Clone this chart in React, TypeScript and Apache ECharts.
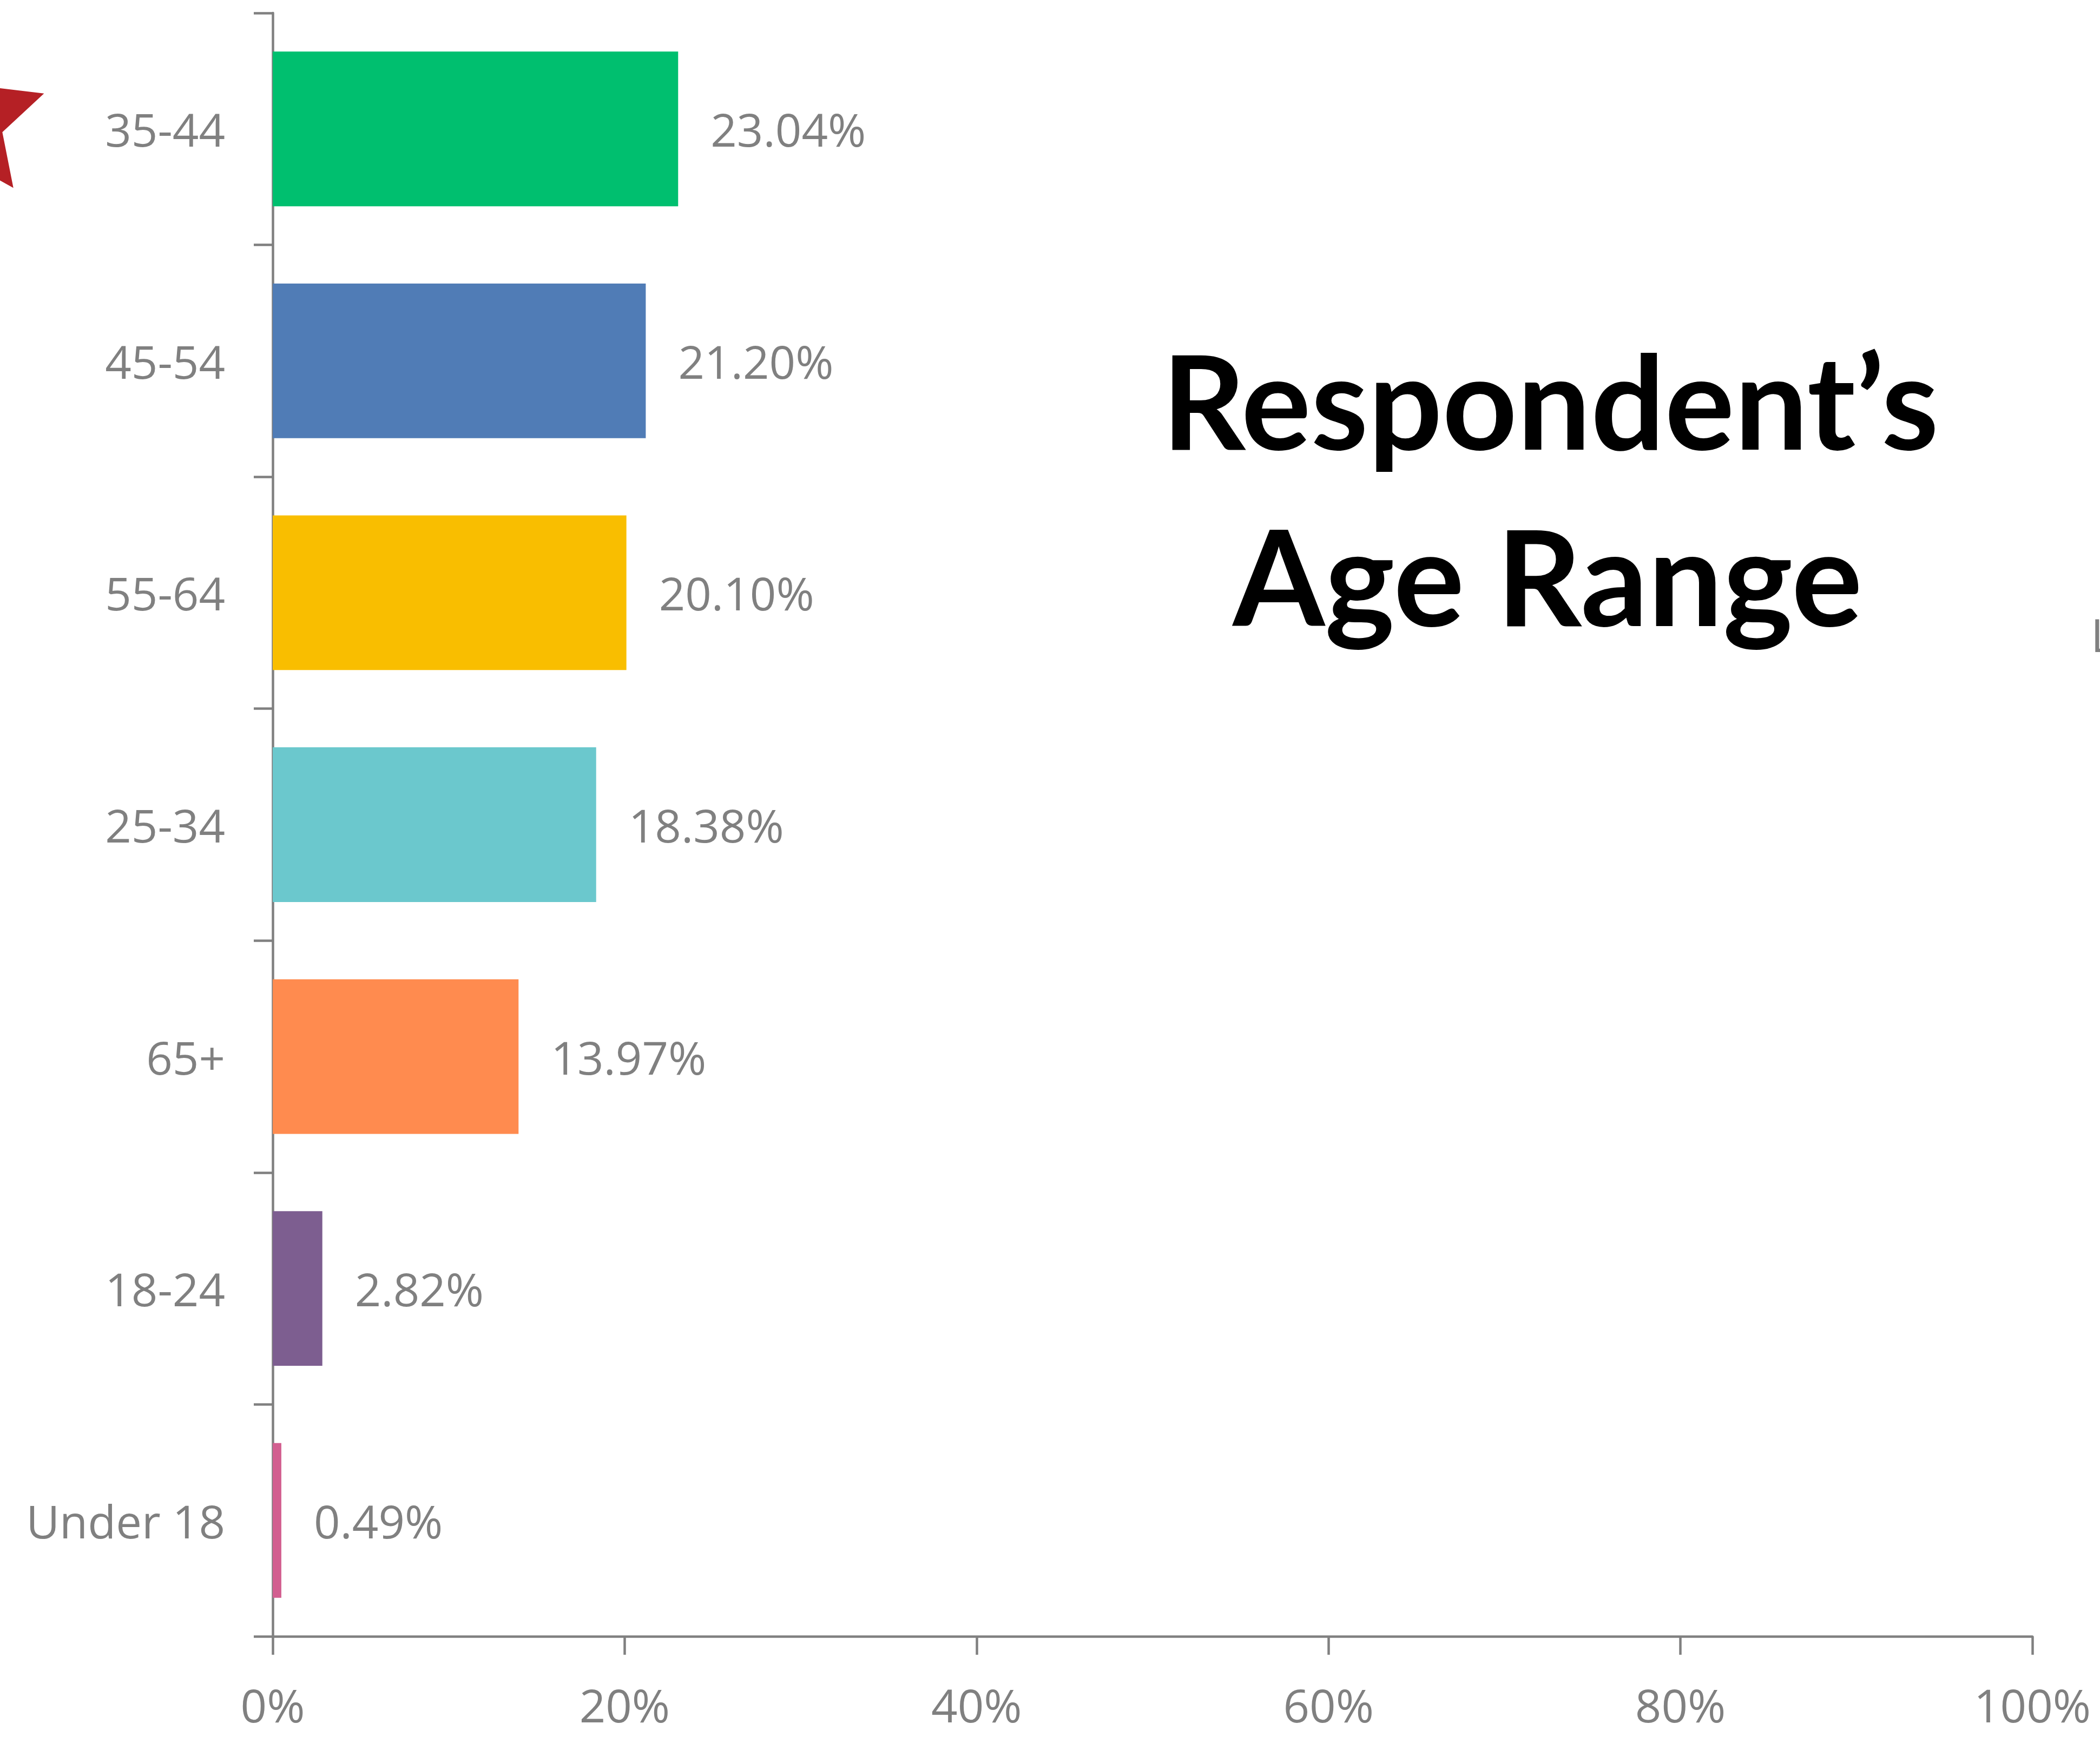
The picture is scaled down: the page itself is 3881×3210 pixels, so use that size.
import React, { useEffect, useRef } from "react";
import * as echarts from "echarts";

const categories = ["35-44", "45-54", "55-64", "25-34", "65+", "18-24", "Under 18"];
const values = [23.04, 21.2, 20.1, 18.38, 13.97, 2.82, 0.49];
const barColors = ["#00BF6F", "#507CB6", "#F9BE00", "#6BC8CD", "#FF8B4F", "#7D5E90", "#D25F90"];
const xMin = 0;
const xMax = 100;
const xStep = 20;
const titleLines = ["Respondent\u2019s", "Age Range"];

const W = 3881;
const H = 3210;
const GRAY = "#808080";
const LABEL_FONT = "'Open Sans', 'Noto Sans', sans-serif";

function starPoints(cx: number, cy: number, R: number, r: number): number[][] {
  const pts: number[][] = [];
  for (let i = 0; i < 10; i++) {
    const ang = (-90 + i * 36) * (Math.PI / 180);
    const rad = i % 2 === 0 ? R : r;
    pts.push([cx + rad * Math.cos(ang), cy + rad * Math.sin(ang)]);
  }
  return pts;
}

export default function App() {
  const ref = useRef<HTMLDivElement>(null);

  useEffect(() => {
    if (!ref.current) return;
    const chart = echarts.init(ref.current, undefined, { renderer: "svg" });
    const option: any = {
      animation: false,
      backgroundColor: "#ffffff",
      grid: { left: 504, right: 125, top: 24, bottom: 186, containLabel: false },
      xAxis: {
        type: "value",
        min: xMin,
        max: xMax,
        interval: xStep,
        splitLine: { show: false },
        axisLine: { show: true, lineStyle: { color: GRAY, width: 4.5 } },
        axisTick: { show: true, length: 34, lineStyle: { color: GRAY, width: 4.5 } },
        axisLabel: {
          formatter: "{value}%",
          color: GRAY,
          fontSize: 85,
          fontFamily: LABEL_FONT,
          margin: 126,
          verticalAlign: "middle",
        },
      },
      yAxis: {
        type: "category",
        data: categories,
        inverse: true,
        axisLine: { show: true, lineStyle: { color: GRAY, width: 4.5 } },
        axisTick: { show: true, length: 35, alignWithLabel: false, lineStyle: { color: GRAY, width: 4.5 } },
        axisLabel: {
          color: GRAY,
          fontSize: 85,
          fontFamily: LABEL_FONT,
          margin: 88,
        },
        splitLine: { show: false },
      },
      series: [
        {
          type: "bar",
          barCategoryGap: "33.3%",
          data: values.map((v, i) => ({ value: v, itemStyle: { color: barColors[i] } })),
          label: {
            show: true,
            position: "right",
            distance: 60,
            color: GRAY,
            fontSize: 85,
            fontFamily: LABEL_FONT,
            formatter: (p: any) => Number(p.value).toFixed(2) + "%",
          },
        },
      ],
      graphic: [
        {
          type: "polygon",
          shape: { points: starPoints(-67, 221, 156, 75) },
          style: { fill: "#B52025" },
          z: 10,
        },
        {
          type: "text",
          x: 2865,
          y: 737,
          style: {
            text: titleLines[0],
            fill: "#000000",
            font: "bold 241px Lato, 'Open Sans', sans-serif",
            textAlign: "center",
            textVerticalAlign: "middle",
            align: "center",
            verticalAlign: "middle",
          },
        },
        {
          type: "text",
          x: 2860,
          y: 1062,
          style: {
            text: titleLines[1],
            fill: "#000000",
            font: "bold 245px Lato, 'Open Sans', sans-serif",
            textAlign: "center",
            textVerticalAlign: "middle",
            align: "center",
            verticalAlign: "middle",
          },
        },
        {
          type: "text",
          x: 3864,
          y: 1172,
          style: {
            text: "L",
            fill: GRAY,
            font: "85px 'Open Sans', sans-serif",
            textAlign: "left",
            textVerticalAlign: "middle",
            align: "left",
            verticalAlign: "middle",
          },
        },
      ],
    };
    chart.setOption(option);
    return () => chart.dispose();
  }, []);

  return (
    <div
      ref={ref}
      style={{ position: "fixed", left: 0, top: 0, width: W, height: H, background: "#ffffff" }}
    />
  );
}
